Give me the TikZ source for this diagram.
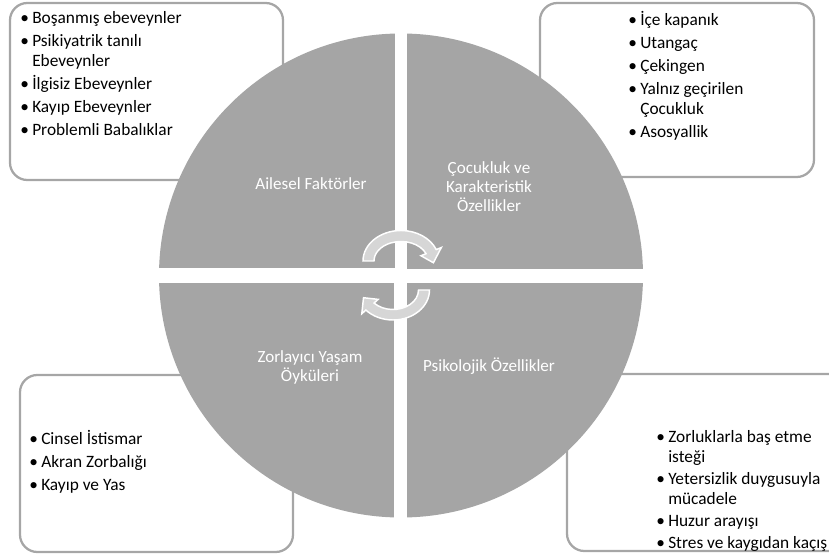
\documentclass[tikz,border=0pt]{standalone}
\usepackage{fontspec}
\setmainfont{Carlito}
\usetikzlibrary{positioning}
\definecolor{boxgray}{RGB}{166,166,166}
\definecolor{quartergray}{RGB}{165,165,165}
\definecolor{turngray}{RGB}{214,214,214}
\newcommand{\bul}{\makebox[9pt][l]{\textbullet}}
\newcommand{\ind}{\hspace*{9pt}}

\begin{document}
\begin{tikzpicture}[x=0.75pt, y=-0.75pt,
		infobox/.style={draw=boxgray, line width=1.7pt, rounded corners=13pt},
		quarter/.style={fill=quartergray},
		turn/.style={fill=turngray, draw=white, line width=1.1pt},
		bullets/.style={anchor=north west, inner sep=0pt, align=left, font=\fontsize{13}{15}\selectfont},
		quartertext/.style={inner sep=0pt, align=center, text=white, font=\fontsize{12.8}{14.3}\selectfont}]
				\clip (0,0) rectangle (829,556);
		
				% boxes behind the circle
				\draw[infobox] (10,3) rectangle (283,180);
				\draw[infobox] (540,3) rectangle (814,177);
				\draw[infobox] (20,375) rectangle (293,552);
				\draw[infobox] (567,374) rectangle (850,551);
		
				\node[bullets] (familylist) at (20,11) {\bul Boşanmış ebeveynler\\[2.2pt]\bul Psikiyatrik tanılı\\\ind Ebeveynler\\[2.2pt]\bul İlgisiz Ebeveynler\\[2.2pt]\bul Kayıp Ebeveynler\\[2.2pt]\bul Problemli Babalıklar};
				\node[bullets] (childlist) at (628,11) {\bul İçe kapanık\\[2.2pt]\bul Utangaç\\[2.2pt]\bul Çekingen\\[2.2pt]\bul Yalnız geçirilen\\\ind Çocukluk\\[2.2pt]\bul Asosyallik};
				\node[bullets] (lifelist) at (29,430) {\bul Cinsel İstismar\\[2.2pt]\bul Akran Zorbalığı\\[2.2pt]\bul Kayıp ve Yas};
				\node[bullets] (psychlist) at (656,430.5) {\bul Zorluklarla baş etme\\\ind isteği\\[1.5pt]\bul Yetersizlik duygusuyla\\\ind mücadele\\[1.5pt]\bul Huzur arayışı\\[1.5pt]\bul Stres ve kaygıdan kaçış};
		
				% the four quarters
				\begin{scope}
					\clip (401,275.5) circle[radius=242];
					\fill[quarter] (150,20) rectangle (395,268);
					\fill[quarter] (407,20) rectangle (650,269);
					\fill[quarter] (150,283) rectangle (394,530);
					\fill[quarter] (407,283) rectangle (650,530);
				\end{scope}
		
				\node[quartertext] (family) at (311,184) {Ailesel Faktörler};
				\node[quartertext] (child) at (489,187) {Çocukluk ve\\Karakteristik\\Özellikler};
				\node[quartertext] (life) at (310,367) {Zorlayıcı Yaşam\\Öyküleri};
				\node[quartertext] (psych) at (489,366) {Psikolojik Özellikler};
		
				% circular arrows
				\filldraw[turn] (363,261) arc[start angle=180, end angle=338, x radius=38, y radius=30.5]
					-- ([shift={(401,261)}]338:43.5 and 36) -- ([shift={(401,261)}]4:32.5 and 25)
					-- ([shift={(401,261)}]338:21.5 and 14) -- ([shift={(401,261)}]338:27 and 19.5)
					arc[start angle=338, end angle=180, x radius=27, y radius=19.5] -- cycle;
				\filldraw[turn] (429.5,290) arc[start angle=0, end angle=138, x radius=36.5, y radius=30]
					-- ([shift={(393,290)}]138:42 and 35.5) -- ([shift={(393,290)}]162:31 and 25)
					-- ([shift={(393,290)}]138:20 and 14) -- ([shift={(393,290)}]138:25.5 and 19.5)
					arc[start angle=138, end angle=0, x radius=25.5, y radius=19.5] -- cycle;
			\end{tikzpicture}
\end{document}
